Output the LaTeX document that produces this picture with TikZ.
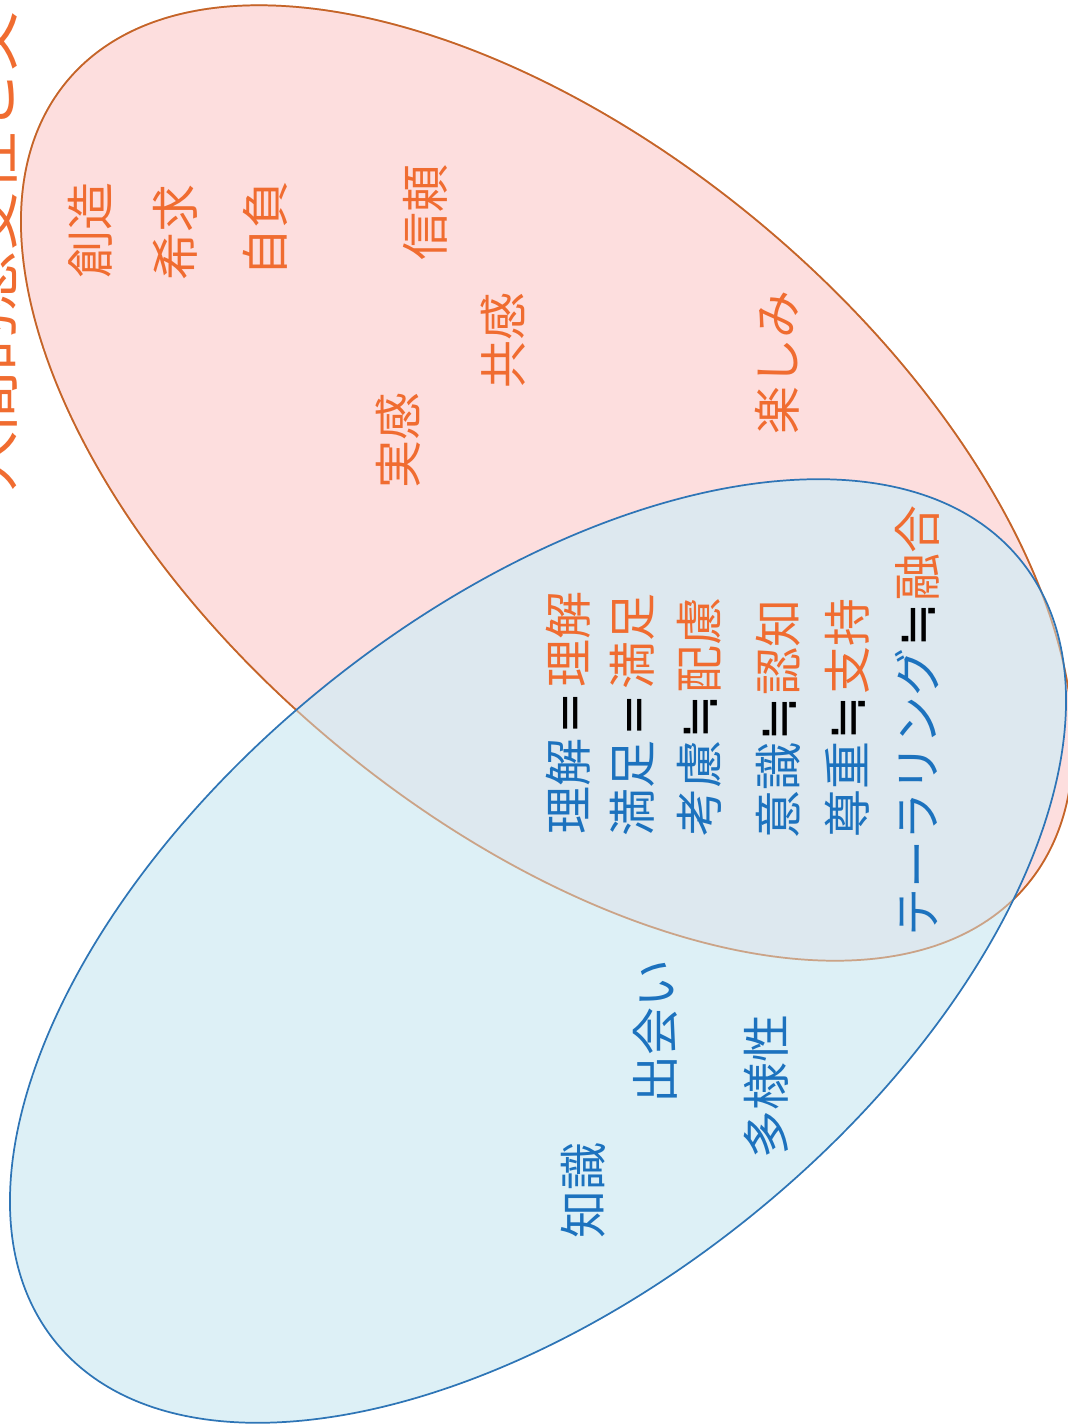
\documentclass[tikz,border=0pt]{standalone}
\usepackage{fontspec}
\setmainfont{Noto Sans CJK JP}
\newfontfamily\jp{Noto Sans CJK JP}
\newfontfamily\dvs{DejaVu Sans}
\definecolor{rfill}{RGB}{253,222,222}
\definecolor{rline}{RGB}{197,100,40}
\definecolor{bfill}{RGB}{212,236,244}
\definecolor{bline}{RGB}{46,117,182}
\definecolor{otxt}{RGB}{240,108,48}
\definecolor{btxt}{RGB}{28,114,190}
\newcommand{\myaeq}{\textcolor{black}{\kern3pt{\dvs\fontsize{38}{40}\selectfont =}\kern3pt}}
\newcommand{\mynearly}{\textcolor{black}{\kern1pt{\dvs\fontsize{40}{40}\selectfont ≒}\kern1pt}}
\begin{document}
\begin{tikzpicture}[x=0.75pt,y=0.75pt,
  word/.style={rotate=90,inner sep=0pt,font=\jp\fontsize{36}{40}\selectfont},
  oword/.style={word,text=otxt},
  bword/.style={word,text=btxt},
  redell/.style={rotate around={-40:(547,-483)}},
  blueell/.style={rotate around={39:(538,-951)}}]
\useasboundingbox (0,0) rectangle (1067,-1427);
% red ellipse
\fill[rfill,redell] (547,-483) ellipse [x radius=626, y radius=336];
\draw[rline,line width=1.3pt,redell] (547,-483) ellipse [x radius=626, y radius=336];
% blue ellipse
\fill[bfill,fill opacity=0.78,blueell] (538,-951) ellipse [x radius=621, y radius=340];
\draw[rline,line width=1.3pt,draw opacity=0.4,redell] (547,-483) ellipse [x radius=626, y radius=336];
\draw[bline,line width=1.3pt,blueell] (538,-951) ellipse [x radius=621, y radius=340];
% title (clipped at the edge as in the reference)
\node[oword,anchor=west,font=\jp\fontsize{45}{50}\selectfont] (title) at (-10,-492) {人間的感受性と文化};
% red words
\node[oword] (w1) at (90,-230) {創造};
\node[oword] (w2) at (175,-232) {希求};
\node[oword] (w3) at (265,-228) {自負};
\node[oword] (w4) at (425,-212) {信頼};
\node[oword] (w5) at (503,-340) {共感};
\node[oword] (w6) at (398,-440) {実感};
\node[oword] (w7) at (777,-362) {楽しみ};
% overlap rows
\node[word] (r1) at (568,-713) {\textcolor{btxt}{理解}\myaeq\textcolor{otxt}{理解}};
\node[word] (r2) at (632,-715) {\textcolor{btxt}{満足}\myaeq\textcolor{otxt}{満足}};
\node[word] (r3) at (699,-717) {\textcolor{btxt}{考慮}\mynearly\textcolor{otxt}{配慮}};
\node[word] (r4) at (778,-719) {\textcolor{btxt}{意識}\mynearly\textcolor{otxt}{認知}};
\node[word] (r5) at (847,-718) {\textcolor{btxt}{尊重}\mynearly\textcolor{otxt}{支持}};
\node[word] (r6) at (917,-721) {\textcolor{btxt}{テーラリング}\mynearly\textcolor{otxt}{融合}};
% blue words
\node[bword] (b1) at (655,-1031) {出会い};
\node[bword] (b2) at (766,-1086) {多様性};
\node[bword] (b3) at (583,-1190) {知識};
\end{tikzpicture}
\end{document}
